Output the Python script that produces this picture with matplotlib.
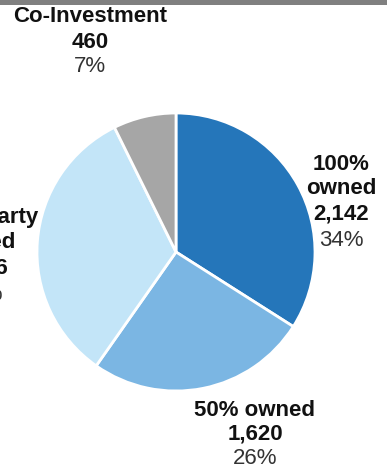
import matplotlib.pyplot as plt
from matplotlib.patches import Rectangle

plt.rcParams['font.family'] = ['Liberation Sans', 'DejaVu Sans']

# ownership split, clockwise from 12 o'clock
values = [2142, 1620, 2076, 460]
colors = ["#2576BA", "#7BB6E3", "#C3E5F8", "#A6A6A6"]

W, H = 387, 472
fig = plt.figure(figsize=(W / 100, H / 100), dpi=100)
ax = fig.add_axes([0, 0, 1, 1])

# header strip
ax.add_patch(Rectangle((0, H - 5), W, 5, color="#808080", lw=0))

ax.pie(values, colors=colors, startangle=90, counterclock=False,
       center=(176, H - 252), radius=139, frame=True,
       wedgeprops=dict(edgecolor="white", linewidth=2))
ax.set_xlim(0, W)
ax.set_ylim(0, H)
ax.set_aspect("equal")
ax.axis("off")

total = sum(values)
pcts = [f"{round(v / total * 100):.0f}%" for v in values]

def label(x, ys, name_lines, value, pct):
    lines = name_lines + [f"{value:,}"]
    for y, s in zip(ys, lines):
        ax.text(x, H - y, s, ha="center", va="center", fontsize=16,
                fontweight="bold", color="#111111")
    ax.text(x, H - ys[len(lines)], pct, ha="center", va="center",
            fontsize=16, color="#333333")

label(341, [164, 188, 214, 240], ["100%", "owned"], values[0], pcts[0])
label(255, [410, 434, 459], ["50% owned"], values[1], pcts[1])
label(-20, [217, 243, 268, 294], ["Third Party", "owned"], values[2], pcts[2])
label(90, [17, 42, 66], ["Co-Investment"], values[3], pcts[3])

fig.savefig("out.png", dpi=100)
